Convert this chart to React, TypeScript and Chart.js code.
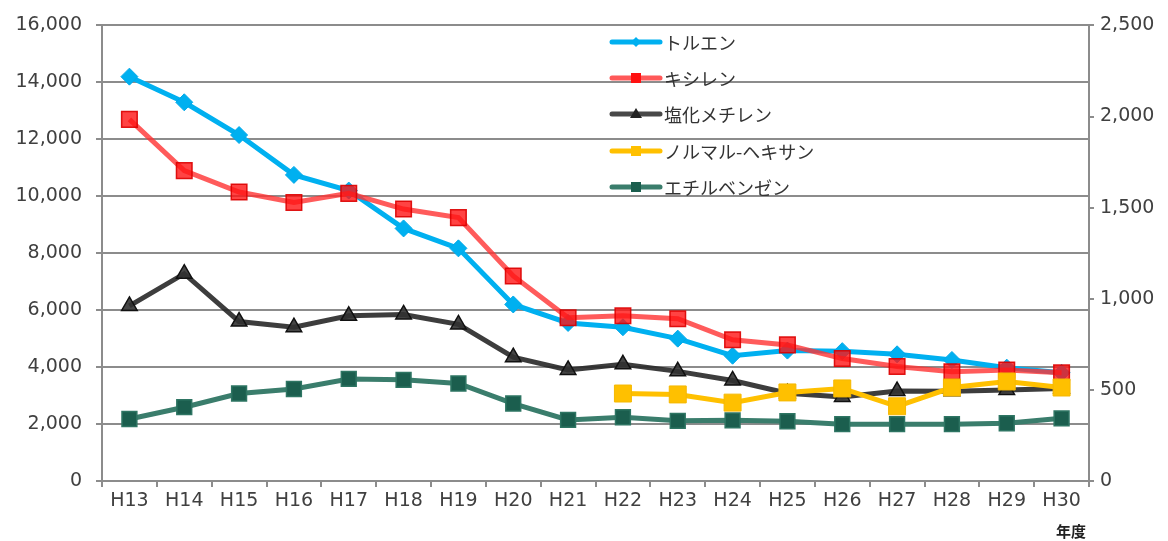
import React, { useEffect, useRef } from 'react';
import { Chart, registerables } from 'chart.js';

Chart.register(...registerables);

const years = ['H13', 'H14', 'H15', 'H16', 'H17', 'H18', 'H19', 'H20', 'H21', 'H22', 'H23', 'H24', 'H25', 'H26', 'H27', 'H28', 'H29', 'H30'];
const toluene = [14200, 13300, 12150, 10750, 10200, 8870, 8170, 6200, 5550, 5400, 5000, 4400, 4580, 4560, 4450, 4250, 3980, 3800];
const xylene = [12700, 10900, 10150, 9780, 10100, 9550, 9250, 7200, 5730, 5800, 5700, 4960, 4780, 4300, 4020, 3840, 3900, 3800];
const dichloromethane = [6150, 7280, 5600, 5400, 5800, 5850, 5500, 4350, 3900, 4100, 3850, 3530, 3080, 2950, 3160, 3150, 3200, 3250];
const nHexane = [null, null, null, null, null, null, null, null, null, 480, 475, 430, 486, 508, 410, 513, 546, 513];
const ethylbenzene = [340, 405, 480, 505, 560, 555, 535, 425, 335, 350, 330, 333, 328, 312, 312, 312, 317, 344];
const leftTicks = [0, 2000, 4000, 6000, 8000, 10000, 12000, 14000, 16000];
const rightTicks = [0, 500, 1000, 1500, 2000, 2500];
const seriesNames = ['トルエン', 'キシレン', '塩化メチレン', 'ノルマル-ヘキサン', 'エチルベンゼン'];
const xTitle = '年度';

const GRID = '#8c8c8c';
const TXT = '#404040';
const NUMFONT = '"DejaVu Sans", sans-serif';
const JPFONT = '"Noto Sans CJK JP", sans-serif';

const legendItems = [
  { name: seriesNames[0], line: '#00B0F0', fill: '#00B0F0', shape: 'diamond' },
  { name: seriesNames[1], line: 'rgba(255,60,60,0.85)', fill: '#FF1010', shape: 'square' },
  { name: seriesNames[2], line: 'rgba(40,40,40,0.85)', fill: '#222222', shape: 'triangle' },
  { name: seriesNames[3], line: '#FFC000', fill: '#FFC000', shape: 'square' },
  { name: seriesNames[4], line: '#3A7D6C', fill: '#1B5E4E', shape: 'square' },
];

const overlayPlugin = {
  id: 'overlay',
  afterDraw(chart: any) {
    const ctx = chart.ctx as CanvasRenderingContext2D;
    ctx.save();
    const x0 = 612;
    const x1 = 660;
    const ys = [42, 78, 114, 151, 187];
    legendItems.forEach((it, i) => {
      const y = ys[i];
      ctx.strokeStyle = it.line;
      ctx.lineWidth = 5;
      ctx.lineCap = 'round';
      ctx.beginPath();
      ctx.moveTo(x0, y);
      ctx.lineTo(x1, y);
      ctx.stroke();
      const cx = (x0 + x1) / 2;
      ctx.fillStyle = it.fill;
      ctx.beginPath();
      if (it.shape === 'diamond') {
        ctx.moveTo(cx, y - 5);
        ctx.lineTo(cx + 5, y);
        ctx.lineTo(cx, y + 5);
        ctx.lineTo(cx - 5, y);
        ctx.closePath();
      } else if (it.shape === 'square') {
        ctx.rect(cx - 5, y - 5, 10, 10);
      } else {
        ctx.moveTo(cx, y - 6);
        ctx.lineTo(cx + 6, y + 4);
        ctx.lineTo(cx - 6, y + 4);
        ctx.closePath();
      }
      ctx.fill();
      ctx.fillStyle = '#333333';
      ctx.font = `18px ${JPFONT}`;
      ctx.textAlign = 'left';
      ctx.textBaseline = 'middle';
      ctx.fillText(it.name, 664, y + 1);
    });
    ctx.fillStyle = '#222222';
    ctx.font = `bold 15px ${JPFONT}`;
    ctx.textAlign = 'center';
    ctx.textBaseline = 'middle';
    ctx.fillText(xTitle, 1071, 531);
    ctx.restore();
  },
};

export default function App() {
  const ref = useRef<HTMLCanvasElement>(null);
  useEffect(() => {
    if (!ref.current) return;
    const chart = new Chart(ref.current, {
      type: 'line',
      data: {
        labels: years,
        datasets: [
          {
            label: seriesNames[0],
            data: toluene,
            yAxisID: 'y',
            borderColor: '#00B0F0',
            backgroundColor: '#00B0F0',
            borderWidth: 5,
            pointStyle: 'rectRot',
            pointRadius: 8.5,
            pointBorderWidth: 1,
            pointBorderColor: '#00A8E8',
            order: 3,
          },
          {
            label: seriesNames[1],
            data: xylene,
            yAxisID: 'y',
            borderColor: 'rgba(255,50,50,0.8)',
            backgroundColor: 'rgba(255,20,20,0.8)',
            borderWidth: 5,
            pointStyle: 'rect',
            pointRadius: 11,
            pointBorderWidth: 1.5,
            pointBorderColor: 'rgba(220,0,0,0.9)',
            order: 2,
          },
          {
            label: seriesNames[2],
            data: dichloromethane,
            yAxisID: 'y',
            borderColor: 'rgba(40,40,40,0.9)',
            backgroundColor: 'rgba(50,50,50,0.9)',
            borderWidth: 5,
            pointStyle: 'triangle',
            pointRadius: 9,
            pointBorderWidth: 1.5,
            pointBorderColor: '#111111',
            order: 4,
          },
          {
            label: seriesNames[3],
            data: nHexane,
            yAxisID: 'y2',
            borderColor: '#FFC000',
            backgroundColor: '#FFC000',
            borderWidth: 5,
            pointStyle: 'rect',
            pointRadius: 12,
            pointBorderWidth: 1,
            pointBorderColor: '#F5B800',
            order: 1,
          },
          {
            label: seriesNames[4],
            data: ethylbenzene,
            yAxisID: 'y2',
            borderColor: '#3A7D6C',
            backgroundColor: '#1B5E4E',
            borderWidth: 5,
            pointStyle: 'rect',
            pointRadius: 10.5,
            pointBorderWidth: 1.5,
            pointBorderColor: '#2E7563',
            order: 5,
          },
        ],
      },
      options: {
        responsive: false,
        animation: false,
        layout: { padding: { top: 23, left: 0, right: 0, bottom: 0 } },
        plugins: { legend: { display: false }, tooltip: { enabled: false } },
        elements: { line: { tension: 0 } },
        scales: {
          x: {
            type: 'category',
            offset: true,
            grid: {
              offset: true,
              drawOnChartArea: false,
              drawTicks: true,
              tickLength: 6,
              color: GRID,
              lineWidth: 2,
            },
            border: { display: true, color: GRID, width: 2 },
            ticks: {
              color: TXT,
              font: { family: NUMFONT, size: 19 },
              padding: 3,
              maxRotation: 0,
              autoSkip: false,
            },
            afterFit: (s: any) => { s.height = 60; },
          },
          y: {
            position: 'left',
            min: 0,
            max: 16000,
            afterBuildTicks: (s: any) => { s.ticks = leftTicks.map((v) => ({ value: v })); },
            grid: { color: GRID, lineWidth: 2, tickLength: 6, drawTicks: true },
            border: { display: true, color: GRID, width: 2 },
            ticks: {
              color: TXT,
              font: { family: NUMFONT, size: 19 },
              padding: 14,
              callback: (v: any) => Number(v).toLocaleString('en-US'),
            },
            afterFit: (s: any) => { s.width = 102; },
          },
          y2: {
            position: 'right',
            min: 0,
            max: 2500,
            afterBuildTicks: (s: any) => { s.ticks = rightTicks.map((v) => ({ value: v })); },
            grid: { drawOnChartArea: false, color: GRID, lineWidth: 2, tickLength: 5, drawTicks: true },
            border: { display: true, color: GRID, width: 2 },
            ticks: {
              color: TXT,
              font: { family: NUMFONT, size: 19 },
              padding: 6,
              callback: (v: any) => Number(v).toLocaleString('en-US'),
            },
            afterFit: (s: any) => { s.width = 79; },
          },
        },
      },
      plugins: [overlayPlugin],
    });
    return () => chart.destroy();
  }, []);
  return (
    <div style={{ position: 'absolute', left: 0, top: 0, width: 1168, height: 541, background: '#ffffff' }}>
      <canvas ref={ref} width={1168} height={541} style={{ display: 'block' }} />
    </div>
  );
}
